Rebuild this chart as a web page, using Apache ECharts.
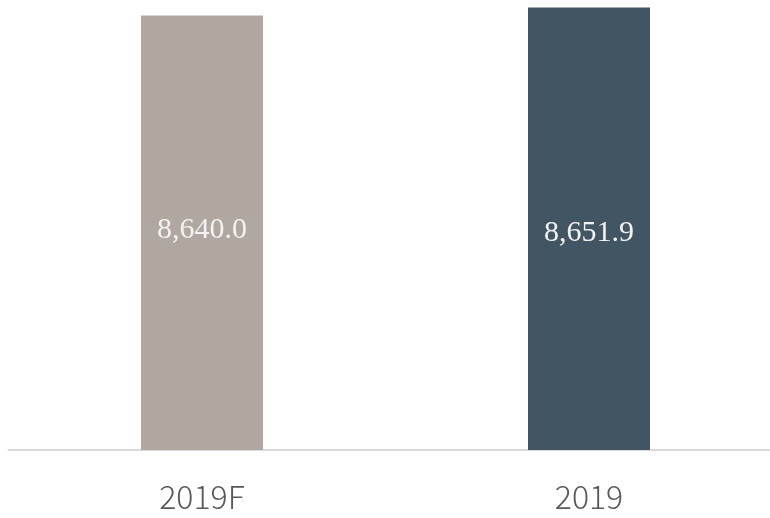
<!DOCTYPE html>
<html>
<head>
<meta charset="utf-8">
<script src="https://cdn.jsdelivr.net/npm/echarts@6/dist/echarts.min.js"></script>
<style>html,body{margin:0;padding:0;background:#fff;}#main{width:770px;height:518px;}</style>
</head>
<body>
<div id="main"></div>
<script>
const categories = ['2019F', '2019'];
const values = [8640.0, 8651.9];

// styling (not data)
const barColors = ['#b0a7a1', '#425563'];
const labelShift = [[0, -3], [0, 4]];

const chart = echarts.init(document.getElementById('main'), null, {renderer: 'canvas'});
chart.setOption({
  animation: false,
  grid: {left: 8.5, width: 774, top: 2, bottom: 68, containLabel: false, outerBoundsMode: 'none'},
  xAxis: {
    type: 'category',
    data: categories,
    axisLine: {show: true, lineStyle: {color: '#d9d9d9', width: 2}},
    axisTick: {show: false},
    axisLabel: {
      color: '#595959',
      fontFamily: 'Noto Sans CJK SC',
      fontWeight: 300,
      fontSize: 32,
      margin: 31
    }
  },
  yAxis: {
    type: 'value',
    min: 8000,
    max: 8660,
    show: false,
    splitLine: {show: false}
  },
  series: [{
    type: 'bar',
    barWidth: 122,
    data: values.map((v, i) => ({value: v, itemStyle: {color: barColors[i]}, label: {offset: labelShift[i]}})),
    label: {
      show: true,
      position: 'inside',
      color: '#f2f2f2',
      fontFamily: 'Liberation Serif',
      fontSize: 30,
      formatter: p => p.value.toLocaleString('en-US', {minimumFractionDigits: 1, maximumFractionDigits: 1})
    }
  }]
});
</script>
</body>
</html>
